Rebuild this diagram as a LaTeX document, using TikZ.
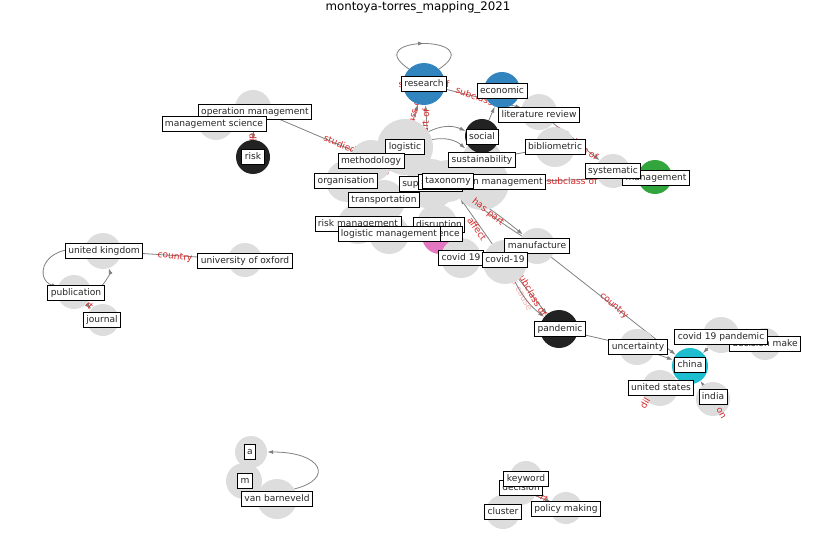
\documentclass[tikz,border=0pt]{standalone}
\usepackage{fontspec}
\setmainfont{DejaVu Sans}
\usetikzlibrary{arrows.meta,decorations.markings}
\definecolor{gcol}{RGB}{221,221,221}
\definecolor{cblue}{RGB}{50,132,190}
\definecolor{cgreen}{RGB}{50,165,60}
\definecolor{cpink}{RGB}{227,119,194}
\definecolor{ccyan}{RGB}{30,190,208}
\definecolor{cdark}{RGB}{34,34,34}
\definecolor{ecol}{RGB}{128,128,128}
\definecolor{cred}{RGB}{214,39,40}
\pgfdeclarelayer{bg}
\pgfdeclarelayer{fg}
\pgfsetlayers{bg,main,fg}
\tikzset{
  gn/.style={circle,fill=gcol,draw=none,inner sep=0pt,minimum size={2*#1pt}},
  ed/.style={draw=ecol,line width=0.8pt,-{Latex[length=6pt,width=4pt]}},
  el/.style={text=cred,font=\fontsize{9.1}{10}\selectfont,inner sep=0pt},
  lb/.style={draw=black,fill=white,line width=0.8pt,inner xsep=3pt,inner ysep=2.8pt,
    text height=6.8pt,text depth=1.9pt,font=\fontsize{9.1}{10}\selectfont,text=black!85},
  midarrow/.style={decoration={markings,mark=at position 0.5 with {\arrow{Latex[length=6pt,width=4pt]}}},postaction=decorate}
}
\begin{document}
\begin{tikzpicture}[x=1pt,y=-1pt]
\useasboundingbox (0,0) rectangle (837,559);
\node (title) at (418,7) {\fontsize{11.8}{13}\selectfont montoya-torres\_mapping\_2021};

% ---------- circles (main layer)
\node[gn=18] (c-opman) at (253,108) {};
\node[gn=18] (c-mansci) at (216,122) {};
\node[gn=17,fill=cdark] (c-risk) at (253,157) {};
\node[gn=28] (c-logistic) at (405,147) {};
\node[gn=21] (c-method) at (371,161) {};
\node[gn=21] (c-organis) at (347,181) {};
\node[gn=25] (c-supply) at (431,184) {};
\node[gn=21] (c-taxonomy) at (448,181) {};
\node[gn=27] (c-scm) at (482,183) {};
\node[gn=20] (c-sustain) at (482,160) {};
\node[gn=21] (c-transport) at (384,201) {};
\node[gn=20] (c-riskman) at (358,224) {};
\node[gn=20] (c-logman) at (389,234) {};
\node[gn=20] (c-disrupt) at (437,224) {};
\node[gn=18,fill=cpink] (c-resil) at (440,236) {};
\node[gn=21,fill=cblue] (c-research) at (424,84) {};
\node[gn=18,fill=cblue] (c-economic) at (502,90) {};
\node[gn=18] (c-litrev) at (539,112) {};
\node[gn=17,fill=cdark] (c-social) at (482,136) {};
\node[gn=20] (c-biblio) at (555,147) {};
\node[gn=17] (c-systematic) at (613,171) {};
\node[gn=17,fill=cgreen] (c-management) at (655,177) {};
\node[gn=20] (c-covid19) at (461,258) {};
\node[gn=22] (c-covid-19) at (505,262) {};
\node[gn=18] (c-manuf) at (537,246) {};
\node[gn=19,fill=cdark] (c-pandemic) at (559,329) {};
\node[gn=18] (c-uncert) at (637,347) {};
\node[gn=18] (c-c19p) at (721,335) {};
\node[gn=16] (c-decmake) at (765,344) {};
\node[gn=18,fill=ccyan] (c-china) at (690,366) {};
\node[gn=18] (c-usa) at (660,388) {};
\node[gn=17] (c-india) at (713,399) {};
\node[gn=18] (c-uk) at (103,251) {};
\node[gn=17] (c-oxford) at (245,260) {};
\node[gn=17] (c-publication) at (74,292) {};
\node[gn=16] (c-journal) at (103,320) {};
\node[gn=16] (c-a) at (251,452) {};
\node[gn=18] (c-m) at (244,481) {};
\node[gn=20] (c-vanb) at (277,499) {};
\node[gn=16] (c-keyword) at (526,477) {};
\node[gn=15] (c-decision) at (521,490) {};
\node[gn=17] (c-cluster) at (503,512) {};
\node[gn=16] (c-policy) at (566,508) {};

% ---------- edges and hidden edge labels (background layer)
\begin{pgfonlayer}{bg}
\draw[ed,-,midarrow] (c-research.135) .. controls +(-52,-34) and +(52,-34) .. (c-research.45);
\draw[ed] (c-research) -- (c-litrev);
\draw[ed] (c-social) -- (c-economic);
\draw[ed] (c-litrev) -- (c-systematic);
\draw[ed] (c-scm) -- (c-management);
\draw[ed] (c-opman) -- (c-supply);
\draw[ed] (c-opman) -- (c-risk);
\draw[ed] (c-logistic) -- (c-research);
\draw[ed] (c-supply) -- (c-research);
\draw[ed] (c-logistic) to[bend left=25] (c-social);
\draw[ed] (c-logistic) to[bend left=25] (c-sustain);
\draw[ed] (c-sustain) -- (c-biblio);
\draw[ed] (c-organis) -- (c-logistic);
\draw[ed] (c-logman) -- (c-transport);
\draw[ed] (c-manuf) to[bend left=3] (c-taxonomy);
\draw[ed] (c-taxonomy) to[bend left=3] (c-manuf);
\draw[ed] (c-covid-19) -- (c-taxonomy);
\draw[ed] (c-covid19) -- (c-supply);
\draw[ed] (c-covid-19) -- (c-pandemic);
\draw[ed] (c-covid-19) to[bend right=12] (c-pandemic);
\draw[ed] (c-manuf) -- (c-china);
\draw[ed] (c-pandemic) -- (c-uncert);
\draw[ed] (c-uncert) -- (c-china);
\draw[ed] (c-c19p) -- (c-china);
\draw[ed] (c-india) -- (c-china);
\draw[ed] (c-usa) -- (c-china);
\draw[ed] (c-uk) -- (c-oxford);
\draw[ed] (c-uk) .. controls (40,245) and (35,280) .. (c-publication);
\draw[ed] (c-publication) .. controls (102,292) and (110,272) .. (c-uk);
\draw[ed] (c-publication) -- (c-journal);
\draw[ed] (c-vanb.30) .. controls +(40,-10) and +(55,0) .. (c-a.0);
\draw[ed] (c-decision) -- (c-policy);

\node[el] (l-loop) at (424,84) {subclass of};
\node[el,rotate=-19] (l-resrev) at (480,98) {subclass of};
\node[el,rotate=-37] (l-revsys) at (577,143) {subclass of};
\node[el,rotate=1] (l-scmman) at (572,181) {subclass of};
\node[el,rotate=-22] (l-studied) at (340,144) {studied};
\node[el,rotate=-90] (l-studied2) at (253,136) {studied};
\node[el,rotate=75] (l-logres) at (411,122) {subclass of};
\node[el,rotate=86] (l-supres) at (426,124) {part of};
\node[el,rotate=-60] (l-covpan) at (532,294) {subclass of};
\node[el,rotate=-62,opacity=0.35] (l-covpan2) at (520,290) {has cause};
\node[el,rotate=-20] (l-orglog) at (376,168) {part of};
\node[el,rotate=-65] (l-logtra) at (392,215) {part of};
\node[el,rotate=-45] (l-pubjou) at (89,306) {part of};
\node[el,rotate=-40] (l-decpol) at (544,499) {part of};
\end{pgfonlayer}

% ---------- visible edge labels and node labels (foreground)
\begin{pgfonlayer}{fg}
\node[el,rotate=-38] (l-haspart) at (488,212) {has part};
\node[el,rotate=-55] (l-affect) at (477,229) {affect};
\node[el,rotate=-42] (l-country) at (614,306) {country};
\node[el,rotate=-6] (l-country2) at (175,257) {country};
\node[el,rotate=60] (l-dil) at (645,403) {dil};
\node[el,rotate=-60] (l-on) at (721,413) {on};

\node[lb] (opman) at (255,112) {operation management};
\node[lb] (mansci) at (214,124) {management science};
\node[lb] (risk) at (253,157) {risk};
\node[lb] (research) at (424,84) {research};
\node[lb] (economic) at (502,91) {economic};
\node[lb] (litrev) at (539,115) {literature review};
\node[lb] (social) at (482,137) {social};
\node[lb] (biblio) at (555,147) {bibliometric};
\node[lb] (sustain) at (482,160) {sustainability};
\node[lb] (logistic) at (405,147) {logistic};
\node[lb] (method) at (371,161) {methodology};
\node[lb] (organis) at (346,181) {organisation};
\node[lb] (supply) at (431,184) {supply chain};
\node[lb] (scm) at (482,182) {supply chain management};
\node[lb] (taxonomy) at (448,181) {taxonomy};
\node[lb] (transport) at (384,200) {transportation};
\node[lb] (riskman) at (358,224) {risk management};
\node[lb] (disrupt) at (439,225) {disruption};
\node[lb] (resil) at (438,234) {resilience};
\node[lb] (logman) at (389,234) {logistic management};
\node[lb] (management) at (656,178) {management};
\node[lb] (systematic) at (613,171) {systematic};
\node[lb] (manuf) at (537,246) {manufacture};
\node[lb] (covid19) at (461,258) {covid 19};
\node[lb] (covid-19) at (505,260) {covid-19};
\node[lb] (pandemic) at (560,329) {pandemic};
\node[lb] (uncert) at (638,347) {uncertainty};
\node[lb] (decmake) at (765,344) {decision make};
\node[lb] (c19p) at (721,337) {covid 19 pandemic};
\node[lb] (china) at (690,365) {china};
\node[lb] (usa) at (661,388) {united states};
\node[lb] (india) at (713,397) {india};
\node[lb] (uk) at (104,251) {united kingdom};
\node[lb] (oxford) at (245,261) {university of oxford};
\node[lb] (publication) at (76,293) {publication};
\node[lb] (journal) at (102,320) {journal};
\node[lb] (a) at (250,452) {a};
\node[lb] (m) at (245,481) {m};
\node[lb] (vanb) at (277,499) {van barneveld};
\node[lb] (decision) at (521,488) {decision};
\node[lb] (keyword) at (526,479) {keyword};
\node[lb] (cluster) at (503,512) {cluster};
\node[lb] (policy) at (566,509) {policy making};
\end{pgfonlayer}
\end{tikzpicture}
\end{document}
